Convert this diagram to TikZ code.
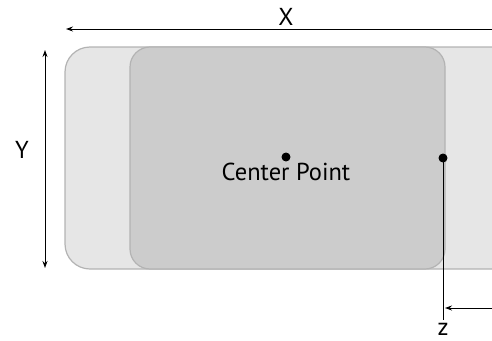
\documentclass[tikz,border=0pt]{standalone}
\usepackage{fontspec}
\setmainfont{PT Sans}
\usetikzlibrary{arrows.meta}
\definecolor{outerfill}{HTML}{E6E6E6}
\definecolor{innerfill}{HTML}{CCCCCC}
\definecolor{edgegray}{HTML}{B3B3B3}
\begin{document}
\begin{tikzpicture}[x=1pt,y=-1pt,>={Stealth[length=7pt,width=5pt]}]
	\useasboundingbox (0,0) rectangle (492,340);
	\clip (0,0) rectangle (492,340);
	\begin{scope}[line width=1.2pt,draw=edgegray]
		\draw[fill=outerfill,rounded corners=25pt] (65,47) rectangle (560,269);
		\draw[fill=innerfill,rounded corners=20pt] (130,47) rectangle (445,269);
	\end{scope}
	\begin{scope}[every node/.style={font=\fontsize{24.5}{28}\selectfont,inner sep=0pt},line width=0.9pt]
		\tikzstyle{dot}=[draw,fill=black,shape=circle,minimum size=8pt,inner sep=0pt];
		\path (286,157) node[dot] (center) {};
		\path (286,180) node [anchor=base] (centerlabel) {Center Point};
		\path (443,158) node[dot] (edge) {};
		\path (443,320) coordinate (zbot);
		\path (443,335.5) node [anchor=base] (zlabel) {z};
		\path (492,29) coordinate (xright);
		\path (66,29)  coordinate (xleft);
		\path (45,50)  coordinate (ytop);
		\path (45,268) coordinate (ybot);
		\path (492,308) coordinate (zright);
		\path (445,308) coordinate (zleft);
		\draw[->] (xright) -- (xleft);
		\path (286,25) node [anchor=base] (xlabel) {X};
		\draw[<->] (ytop) -- (ybot);
		\path (22,158) node [anchor=base] (ylabel) {Y};
		\draw (edge) -- (zbot);
		\draw[->] (zright) -- (zleft);
	\end{scope}
\end{tikzpicture}
\end{document}
